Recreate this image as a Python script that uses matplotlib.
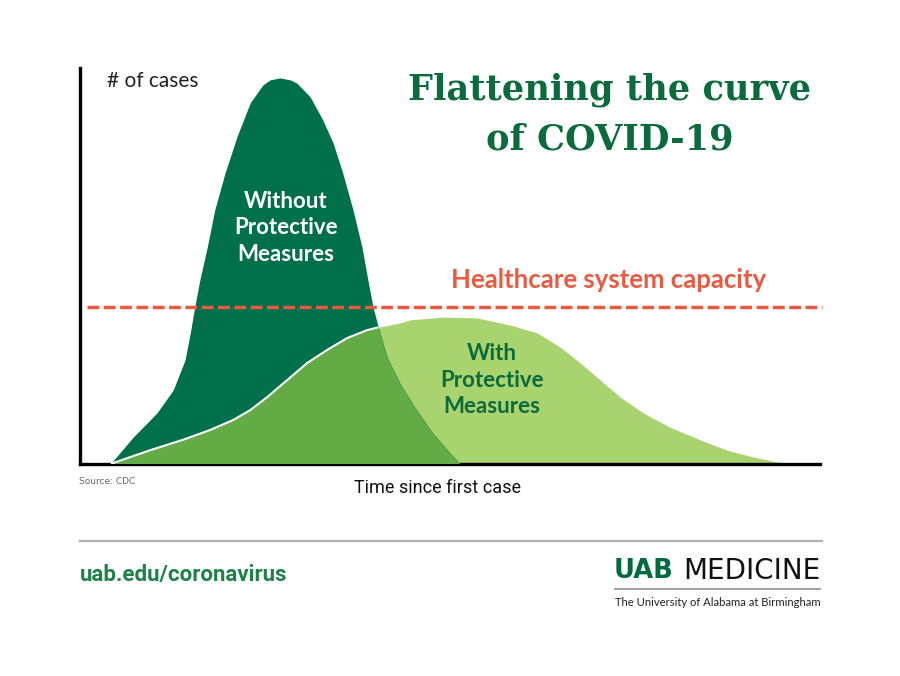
import matplotlib
matplotlib.use("Agg")
import matplotlib.pyplot as plt

# ---------------------------------------------------------------------------
# Data (time and cases on a 0-100 scale)
# ---------------------------------------------------------------------------
without_t = [4.1, 7.2, 10.4, 12.6, 14.2, 14.9, 15.5, 16.2, 17.2, 18.2, 19.6,
             21.2, 23.0, 24.7, 25.7, 27.0, 28.4, 29.3, 31.1, 32.8, 34.2, 35.5,
             36.9, 38.1, 38.9, 39.6, 40.3, 41.5, 43.2, 45.5, 47.7, 50.0, 51.4]
without_c = [0.0, 6.8, 12.9, 18.7, 26.3, 33.1, 39.6, 46.5, 54.8, 64.1, 73.5,
             82.6, 91.2, 95.7, 97.0, 97.5, 97.0, 96.2, 92.7, 86.9, 81.1, 73.5,
             64.1, 54.8, 46.5, 39.6, 34.6, 27.0, 20.5, 13.6, 7.8, 2.8, 0.0]

with_t = [4.1, 9.5, 13.9, 17.6, 20.7, 23.0, 25.3, 28.0, 30.7, 33.4, 36.1,
          38.8, 40.5, 43.2, 44.6, 49.1, 53.6, 58.1, 61.8, 64.9, 67.6, 70.3,
          73.0, 76.1, 79.7, 83.8, 87.4, 90.9, 94.2, 95.9]
with_c = [0.0, 3.5, 6.1, 8.6, 11.1, 13.6, 16.9, 21.2, 25.5, 28.8, 31.8,
          33.8, 34.6, 35.6, 36.4, 37.1, 36.9, 35.1, 33.1, 29.5, 25.5, 21.2,
          16.9, 12.9, 9.3, 6.1, 3.5, 1.8, 0.5, 0.0]

capacity = 39.6

DARK = "#00704a"
MID = "#62ab45"
LIGHT = "#a8d36e"
TEXT_GREEN = "#0b6b3c"
RED = "#ea5a40"

W, H = 900, 676


def fx(px):
    return px / W


def fy(py):
    return 1 - py / H


fig = plt.figure(figsize=(9, 6.76), dpi=100)
ax = fig.add_axes([fx(80), fy(464), 740 / W, 396 / H])
ax.set_xlim(0, 100)
ax.set_ylim(0, 100)

# curves: light, dark, then the overlap in mid green
ax.fill_between(with_t, with_c, 0, color=LIGHT, lw=0, zorder=1)
dark = ax.fill_between(without_t, without_c, 0, color=DARK, lw=0, zorder=2)
clip = dark.get_paths()[0]
mid = ax.fill_between(with_t, with_c, 0, color=MID, lw=0, zorder=3)
mid.set_clip_path(clip, ax.transData)
edge, = ax.plot(with_t, with_c, color="white", lw=1.5, zorder=4,
                solid_joinstyle="round")
edge.set_clip_path(clip, ax.transData)

# capacity line
ax.plot([1.0, 100.3], [capacity, capacity], color=RED, lw=2.5,
        dashes=(3.4, 1.3), clip_on=False, zorder=5)

# axes styling
for s in ["top", "right"]:
    ax.spines[s].set_visible(False)
for s in ["left", "bottom"]:
    ax.spines[s].set_linewidth(2.4)
    ax.spines[s].set_color("black")
ax.set_xticks([])
ax.set_yticks([])
ax.patch.set_alpha(0)

# labels inside chart
ax.text(27.8, 59.6, "Without\nProtective\nMeasures", ha="center", va="center",
        color="white", fontsize=16, fontweight="bold", family="Lato",
        linespacing=1.3, zorder=6)
ax.text(55.7, 21.2, "With\nProtective\nMeasures", ha="center", va="center",
        color=TEXT_GREEN, fontsize=16, fontweight="bold", family="Lato",
        linespacing=1.3, zorder=6)

fig.text(fx(107), fy(81), "# of cases", ha="left", va="center",
         fontsize=15, family="Lato", color="#222222")
fig.text(fx(610), fy(90), "Flattening the curve", ha="center", va="center",
         fontsize=25.4, fontweight="bold", family="DejaVu Serif",
         color=TEXT_GREEN)
fig.text(fx(610), fy(139), "of COVID-19", ha="center", va="center",
         fontsize=25.4, fontweight="bold", family="DejaVu Serif",
         color=TEXT_GREEN)
fig.text(fx(609), fy(280), "Healthcare system capacity", ha="center",
         va="center", fontsize=18.5, fontweight="bold", family="Lato",
         color=RED)

fig.text(fx(79), fy(481), "Source: CDC", ha="left", va="center",
         fontsize=6.5, family="DejaVu Sans", color="#666666")
fig.text(fx(438), fy(488), "Time since first case", ha="center", va="center",
         fontsize=13, family="Roboto", color="#111111")

# footer
fig.add_artist(plt.Line2D([fx(80), fx(822)], [fy(541), fy(541)],
                          color="#b0b0b0", lw=1.6))
fig.text(fx(80), fy(575), "uab.edu/coronavirus", ha="left", va="center",
         fontsize=16, fontweight="bold", family="Roboto", color="#1f8048")
fig.text(fx(614), fy(571), "UAB", ha="left", va="center", fontsize=18.5,
         fontweight="bold", family="DejaVu Sans", color="#006b3f")
fig.text(fx(821), fy(571), "MEDICINE", ha="right", va="center", fontsize=20,
         family="DejaVu Sans", color="#111111")
fig.add_artist(plt.Line2D([fx(615), fx(820)], [fy(589), fy(589)],
                          color="#a0a0a0", lw=1.4))
fig.text(fx(615), fy(603), "The University of Alabama at Birmingham",
         ha="left", va="center", fontsize=8.1, family="Lato", color="#222222")

fig.savefig("out.png", dpi=100)
